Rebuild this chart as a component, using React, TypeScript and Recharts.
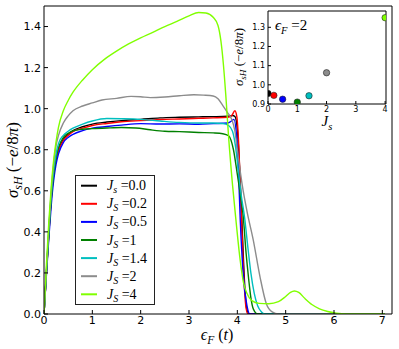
import {
  LineChart,
  Line,
  XAxis,
  YAxis,
  Legend,
  Label,
  ScatterChart,
  Scatter,
  Cell,
  CartesianGrid,
} from "recharts";

const MATH = "'Liberation Serif', 'DejaVu Serif', serif";
const TICK = "'DejaVu Sans', sans-serif";

// main axes
const xTicks = [0, 1, 2, 3, 4, 5, 6, 7];
const yTicks = [0, 0.2, 0.4, 0.6, 0.8, 1.0, 1.2, 1.4];

// legend
const jsValues = ["0.0", "0.2", "0.5", "1", "1.4", "2", "4"];
const jsSub = ["s", "S", "S", "S", "S", "S", "S"];
const seriesColors = ["#000000", "#ff0000", "#0000ff", "#008000", "#00bfbf", "#8c8c8c", "#80ff00"];

// sigma_sH vs eps_F, one list per J_s
const curveJs00: [number, number][] = [
  [0, 0], [0.05, 0.2], [0.1, 0.4], [0.15, 0.57], [0.2, 0.69], [0.25, 0.76], [0.3, 0.8],
  [0.4, 0.85], [0.5, 0.875], [0.6, 0.893], [0.8, 0.912], [1.0, 0.925], [1.3, 0.935],
  [1.6, 0.942], [2.0, 0.948], [2.4, 0.955], [2.8, 0.958], [3.2, 0.96], [3.5, 0.961],
  [3.8, 0.963], [3.9, 0.967], [3.95, 0.962], [4.0, 0.9], [4.05, 0.7], [4.1, 0.42],
  [4.15, 0.15], [4.2, 0.02], [4.25, 0], [7.05, 0],
];
const curveJs02: [number, number][] = [
  [0, 0], [0.05, 0.2], [0.1, 0.39], [0.15, 0.56], [0.2, 0.68], [0.25, 0.75], [0.3, 0.795],
  [0.4, 0.845], [0.5, 0.87], [0.6, 0.888], [0.8, 0.905], [1.0, 0.918], [1.3, 0.928],
  [1.6, 0.936], [2.0, 0.942], [2.4, 0.947], [2.8, 0.95], [3.2, 0.953], [3.5, 0.955],
  [3.8, 0.958], [3.88, 0.965], [3.95, 0.99], [3.99, 0.96], [4.03, 0.82], [4.08, 0.5],
  [4.13, 0.2], [4.18, 0.03], [4.22, 0], [7.05, 0],
];
const curveJs05: [number, number][] = [
  [0, 0], [0.05, 0.19], [0.1, 0.37], [0.15, 0.53], [0.2, 0.65], [0.25, 0.73], [0.3, 0.78],
  [0.4, 0.835], [0.5, 0.86], [0.6, 0.875], [0.8, 0.893], [1.0, 0.905], [1.3, 0.913],
  [1.6, 0.92], [2.0, 0.927], [2.4, 0.925], [2.8, 0.926], [3.2, 0.924], [3.5, 0.927],
  [3.8, 0.93], [3.88, 0.94], [3.93, 0.948], [3.98, 0.88], [4.02, 0.72], [4.06, 0.46],
  [4.12, 0.2], [4.2, 0.04], [4.26, 0], [7.05, 0],
];
const curveJs1: [number, number][] = [
  [0, 0], [0.05, 0.2], [0.1, 0.39], [0.15, 0.56], [0.2, 0.68], [0.25, 0.76], [0.3, 0.81],
  [0.4, 0.86], [0.5, 0.88], [0.6, 0.892], [0.8, 0.9], [1.0, 0.903], [1.3, 0.906],
  [1.6, 0.908], [1.9, 0.906], [2.2, 0.897], [2.5, 0.89], [2.8, 0.888], [3.2, 0.884],
  [3.5, 0.882], [3.7, 0.878], [3.82, 0.868], [3.92, 0.8], [4.0, 0.68], [4.07, 0.57],
  [4.12, 0.48], [4.18, 0.3], [4.23, 0.18], [4.28, 0.08], [4.33, 0.025], [4.42, 0], [7.05, 0],
];
const curveJs14: [number, number][] = [
  [0, 0], [0.05, 0.21], [0.1, 0.41], [0.15, 0.58], [0.2, 0.7], [0.25, 0.78], [0.3, 0.83],
  [0.4, 0.87], [0.5, 0.89], [0.6, 0.905], [0.8, 0.925], [1.0, 0.94], [1.3, 0.952],
  [1.6, 0.951], [2.0, 0.948], [2.4, 0.94], [2.8, 0.933], [3.2, 0.93], [3.5, 0.93],
  [3.7, 0.928], [3.82, 0.918], [3.9, 0.89], [3.96, 0.82], [4.02, 0.7], [4.08, 0.58],
  [4.15, 0.47], [4.22, 0.32], [4.28, 0.2], [4.35, 0.1], [4.42, 0.04], [4.5, 0.01],
  [4.56, 0], [7.05, 0],
];
const curveJs2: [number, number][] = [
  [0, 0], [0.05, 0.21], [0.1, 0.42], [0.15, 0.6], [0.2, 0.73], [0.25, 0.82], [0.3, 0.87],
  [0.4, 0.93], [0.5, 0.965], [0.6, 0.99], [0.8, 1.013], [1.0, 1.028], [1.2, 1.042],
  [1.5, 1.05], [1.8, 1.06], [2.0, 1.058], [2.2, 1.054], [2.5, 1.057], [2.8, 1.063],
  [3.1, 1.068], [3.3, 1.066], [3.5, 1.062], [3.6, 1.048], [3.7, 1.015], [3.8, 0.98],
  [3.88, 0.95], [3.95, 0.89], [4.0, 0.8], [4.05, 0.71], [4.1, 0.63], [4.2, 0.5],
  [4.33, 0.36], [4.47, 0.18], [4.6, 0.05], [4.72, 0.01], [4.85, 0], [7.05, 0],
];
const curveJs4: [number, number][] = [
  [0, 0], [0.05, 0.24], [0.1, 0.45], [0.15, 0.62], [0.2, 0.75], [0.25, 0.84], [0.3, 0.91],
  [0.4, 0.99], [0.5, 1.04], [0.6, 1.08], [0.8, 1.14], [1.0, 1.19], [1.25, 1.24],
  [1.5, 1.28], [1.75, 1.315], [2.0, 1.345], [2.25, 1.372], [2.5, 1.4], [2.75, 1.425],
  [3.0, 1.452], [3.2, 1.468], [3.35, 1.466], [3.5, 1.445], [3.6, 1.405], [3.66, 1.33],
  [3.71, 1.22], [3.76, 1.07], [3.82, 0.86], [3.9, 0.63], [3.97, 0.46], [4.06, 0.26],
  [4.13, 0.15], [4.2, 0.1], [4.3, 0.065], [4.45, 0.052], [4.65, 0.05], [4.85, 0.06],
  [5.0, 0.085], [5.1, 0.105], [5.18, 0.112], [5.27, 0.105], [5.4, 0.075], [5.55, 0.045],
  [5.7, 0.025], [5.87, 0.012], [6.05, 0.004], [6.25, 0], [7.05, 0],
];
const curves = [curveJs00, curveJs02, curveJs05, curveJs1, curveJs14, curveJs2, curveJs4];

// inset: sigma_sH at eps_F = 2
const insetXTicks = [0, 1, 2, 3, 4];
const insetYTicks = [0.9, 1.0, 1.1, 1.2, 1.3];
const insetJ = [0, 0.2, 0.5, 1, 1.4, 2, 4];
const insetSigma = [0.955, 0.945, 0.925, 0.91, 0.943, 1.063, 1.35];

const tickStyle = { fill: "#000", fontSize: 11, fontFamily: TICK };
const insetTickStyle = { fill: "#000", fontSize: 8, fontFamily: TICK };
const fmt1 = (v: number) => v.toFixed(1);

// rotated sigma_sH (-e/8pi)
const SigmaLabel = ({ cx, cy, size }: { cx: number; cy: number; size: number }) => (
  <text
    x={cx}
    y={cy}
    transform={`rotate(-90 ${cx} ${cy})`}
    textAnchor="middle"
    fontFamily={MATH}
    fontSize={size}
    fill="#000"
  >
    <tspan fontStyle="italic">σ</tspan>
    <tspan fontStyle="italic" fontSize={size * 0.7} dy={size * 0.22}>sH</tspan>
    <tspan dy={-size * 0.22}>{" (−"}</tspan>
    <tspan fontStyle="italic">e</tspan>
    <tspan>/8</tspan>
    <tspan fontStyle="italic">π</tspan>
    <tspan>)</tspan>
  </text>
);

const renderLegend = (props: any) => {
  const payload = props.payload ?? [];
  return (
    <svg width={80} height={130} style={{ display: "block" }}>
      <rect x={0.5} y={0.5} width={79} height={129} fill="#fff" stroke="#222" />
      {jsValues.map((v, i) => {
        const y = 10.7 + 18.1 * i;
        const color = payload[i]?.color ?? seriesColors[i];
        return (
          <g key={v}>
            <line x1={6} x2={22} y1={y} y2={y} stroke={color} strokeWidth={2} />
            <text x={32} y={y + 4.5} fontFamily={MATH} fontSize={14} fill="#000">
              <tspan fontStyle="italic">J</tspan>
              <tspan fontStyle="italic" fontSize={10} dy={3}>{jsSub[i]}</tspan>
              <tspan dy={-3}>{" =" + v}</tspan>
            </text>
          </g>
        );
      })}
    </svg>
  );
};

const Dot = (p: any) => (
  <circle cx={p.cx} cy={p.cy} r={3.2} fill={p.fill} stroke="#222" strokeWidth={0.6} />
);

function Inset() {
  const data = insetJ.map((j, i) => ({ j, s: insetSigma[i] }));
  return (
    <div style={{ position: "absolute", left: 228, top: 0 }}>
      <ScatterChart width={171} height={135} margin={{ top: 10, right: 12, bottom: 0, left: 12 }}>
        <CartesianGrid horizontal={false} vertical={false} fill="#fff" />
        <XAxis
          type="number"
          dataKey="j"
          domain={[0, 4.03]}
          ticks={insetXTicks}
          allowDataOverflow
          height={31}
          tickSize={-3}
          tickMargin={5}
          tick={insetTickStyle}
          stroke="#000"
        >
          <Label
            content={() => (
              <text x={99} y={126} textAnchor="middle" fontFamily={MATH} fontSize={15} fill="#000">
                <tspan fontStyle="italic">J</tspan>
                <tspan fontStyle="italic" fontSize={10.5} dy={3.5}>s</tspan>
              </text>
            )}
          />
        </XAxis>
        <XAxis
          xAxisId="t"
          orientation="top"
          type="number"
          dataKey="j"
          domain={[0, 4.03]}
          ticks={insetXTicks}
          allowDataOverflow
          height={1}
          tickSize={-3}
          tick={false}
          stroke="#000"
        >
          <Label
            content={() => (
              <text x={47} y={30} fontFamily={MATH} fontSize={15} fill="#000">
                <tspan fontStyle="italic">ϵ</tspan>
                <tspan fontStyle="italic" fontSize={10.5} dy={3.5}>F</tspan>
                <tspan dy={-3.5}>{" =2"}</tspan>
              </text>
            )}
          />
        </XAxis>
        <YAxis
          type="number"
          dataKey="s"
          domain={[0.9, 1.385]}
          ticks={insetYTicks}
          allowDataOverflow
          width={28}
          tickSize={-3}
          tickMargin={6}
          tickFormatter={fmt1}
          tick={insetTickStyle}
          stroke="#000"
        >
          <Label content={() => <SigmaLabel cx={15} cy={57} size={13} />} />
        </YAxis>
        <YAxis
          yAxisId="r"
          orientation="right"
          type="number"
          dataKey="s"
          domain={[0.9, 1.385]}
          ticks={insetYTicks}
          allowDataOverflow
          width={1}
          tickSize={-3}
          tick={false}
          stroke="#000"
        />
        {/* invisible copy so the mirrored top/right axes get drawn */}
        <Scatter data={data} xAxisId="t" yAxisId="r" shape={() => <g />} isAnimationActive={false} />
        <Scatter data={data} shape={Dot} isAnimationActive={false}>
          {data.map((d, i) => (
            <Cell key={d.j} fill={seriesColors[i]} />
          ))}
        </Scatter>
      </ScatterChart>
    </div>
  );
}

export default function App() {
  const lineData = curves.map((c) => c.map(([x, y]) => ({ x, y })));
  return (
    <div style={{ position: "absolute", left: 0, top: 0, width: 399, height: 349, background: "#fff" }}>
      <LineChart width={399} height={349} margin={{ top: 5, right: 6, bottom: 0, left: 8 }}>
        <XAxis
          type="number"
          dataKey="x"
          domain={[0, 7.2]}
          ticks={xTicks}
          allowDataOverflow
          height={35}
          tickSize={-4}
          tickMargin={6}
          tick={tickStyle}
          stroke="#000"
        >
          <Label
            content={() => (
              <text x={217} y={340} textAnchor="middle" fontFamily={MATH} fontSize={16} fill="#000">
                <tspan fontStyle="italic">ϵ</tspan>
                <tspan fontStyle="italic" fontSize={11.5} dy={4}>F</tspan>
                <tspan dy={-4}>{" ("}</tspan>
                <tspan fontStyle="italic">t</tspan>
                <tspan>)</tspan>
              </text>
            )}
          />
        </XAxis>
        <XAxis
          xAxisId="t"
          orientation="top"
          type="number"
          dataKey="x"
          domain={[0, 7.2]}
          ticks={xTicks}
          allowDataOverflow
          height={1}
          tickSize={-4}
          tick={false}
          stroke="#000"
        />
        <YAxis
          type="number"
          domain={[0, 1.5]}
          ticks={yTicks}
          allowDataOverflow
          width={36}
          tickSize={-4}
          tickMargin={7}
          tickFormatter={fmt1}
          tick={tickStyle}
          stroke="#000"
        >
          <Label content={() => <SigmaLabel cx={18} cy={160} size={17} />} />
        </YAxis>
        <YAxis
          yAxisId="r"
          orientation="right"
          type="number"
          domain={[0, 1.5]}
          ticks={yTicks}
          allowDataOverflow
          width={1}
          tickSize={-4}
          tick={false}
          stroke="#000"
        />
        {/* invisible copy so the mirrored top/right axes get drawn */}
        <Line
          xAxisId="t"
          yAxisId="r"
          data={lineData[0]}
          dataKey="y"
          stroke="none"
          dot={false}
          legendType="none"
          isAnimationActive={false}
        />
        {lineData.map((d, i) => (
          <Line
            key={jsValues[i]}
            data={d}
            dataKey="y"
            name={`J=${jsValues[i]}`}
            type="monotone"
            stroke={seriesColors[i]}
            strokeWidth={1.4}
            dot={false}
            isAnimationActive={false}
          />
        ))}
        <Legend
          layout="vertical"
          align="center"
          verticalAlign="middle"
          wrapperStyle={{ left: 75, top: 175, width: 80, height: 130 }}
          content={renderLegend}
        />
      </LineChart>
      <Inset />
    </div>
  );
}
